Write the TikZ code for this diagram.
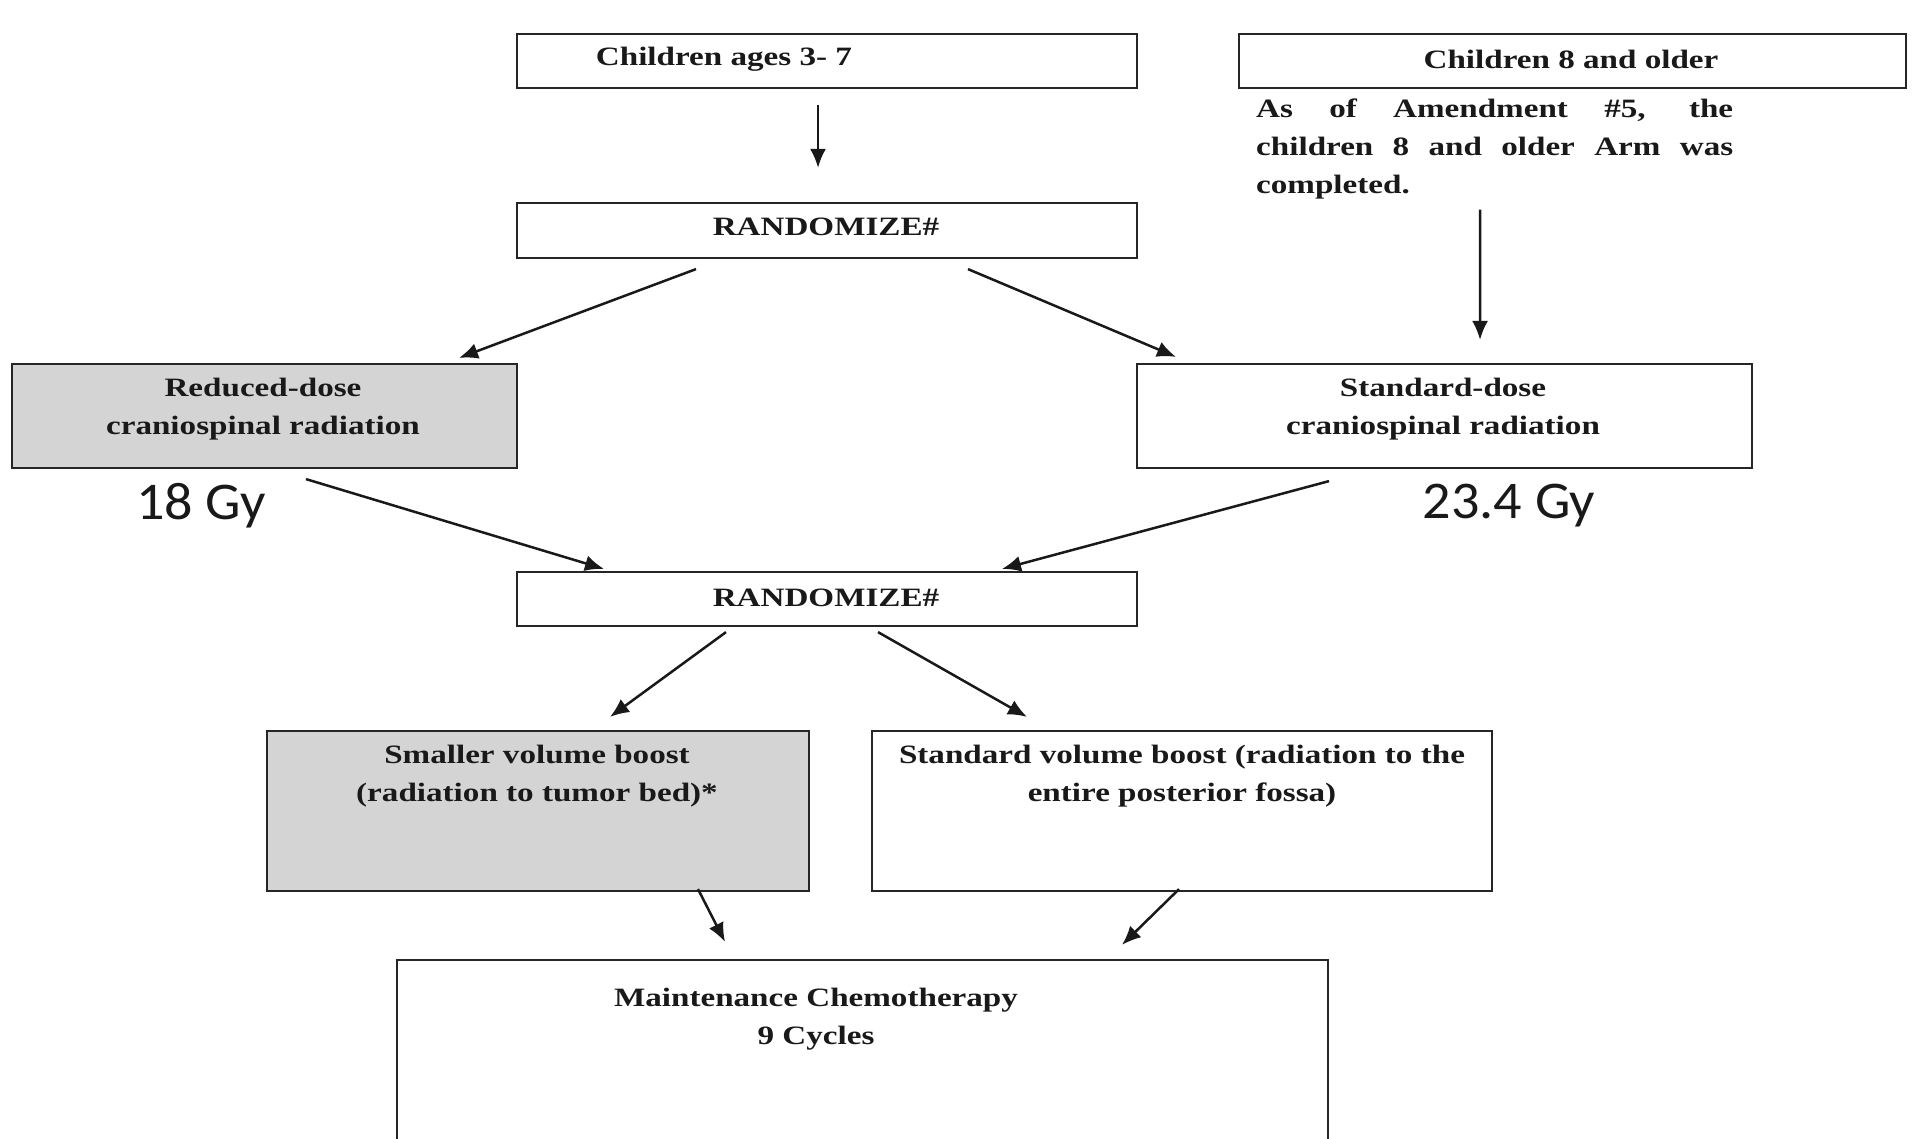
\documentclass[tikz,border=0pt]{standalone}
\usepackage{fontspec}
\setmainfont{Liberation Serif}
\newfontfamily\tbf{Liberation Serif}[FakeStretch=1.25]
\newfontfamily\gyfont{Carlito}[FakeStretch=1.06]
\usetikzlibrary{calc,arrows.meta}
\tikzset{
  box/.style={draw=black!85, line width=2.2pt, inner sep=0pt, rectangle},
  graybox/.style={box, fill=black!17},
  txt/.style={font=\tbf\bfseries\fontsize{26.5}{38}\selectfont, align=center, inner sep=0pt, text=black!90},
  gy/.style={font=\gyfont\fontsize{53}{60}\selectfont, inner sep=0pt, text=black!90},
  arr/.style={line width=2.5pt, draw=black!90, -{Latex[length=19pt,width=16pt]}}
}
\begin{document}
\begin{tikzpicture}[x=1pt,y=-1pt]
\clip (0,0) rectangle (1921,1138);
\fill[white] (0,0) rectangle (1921,1138);
% boxes
\node[box, minimum width=620pt, minimum height=54pt] (c37) at (827,61) {};
\node[box, minimum width=667pt, minimum height=54pt] (c8) at (1572.5,61) {};
\node[box, minimum width=620pt, minimum height=55pt] (rand1) at (827,230.5) {};
\node[graybox, minimum width=505pt, minimum height=104pt] (red) at (264.5,416) {};
\node[box, minimum width=615pt, minimum height=104pt] (std) at (1444.5,416) {};
\node[box, minimum width=620pt, minimum height=54pt] (rand2) at (827,599) {};
\node[graybox, minimum width=542pt, minimum height=160pt] (small) at (538,811) {};
\node[box, minimum width=620pt, minimum height=160pt] (stdvol) at (1182,811) {};
\node[box, minimum width=931pt, minimum height=190pt] (maint) at (862.5,1055) {};
% texts
\node[txt] (t37) at (724,59) {Children ages 3- 7};
\node[txt] (t8) at (1571,59) {Children 8 and older};
\node[txt, align=left, anchor=north west] (note) at (1256,99)
  {\makebox[477pt][s]{As of Amendment \#5, the}\\
   \makebox[477pt][s]{children 8 and older Arm was}\\
   completed.};
\node[txt] (tr1) at (826,227) {RANDOMIZE\#};
\node[txt] (tred) at (263,409) {Reduced-dose\\craniospinal radiation};
\node[txt] (tstd) at (1443,409) {Standard-dose\\craniospinal radiation};
\node[gy] (gy18) at (201,506) {18 Gy};
\node[gy] (gy23) at (1509,506) {23.4 Gy};
\node[txt] (tr2) at (826,598) {RANDOMIZE\#};
\node[txt] (tsmall) at (537,776) {Smaller volume boost\\(radiation to tumor bed)*};
\node[txt] (tstdvol) at (1182,776) {Standard volume boost (radiation to the\\entire posterior fossa)};
\node[txt] (tmaint) at (816,1019) {Maintenance Chemotherapy\\9 Cycles};
% arrows
\draw[arr] ($(c37.south)+(-9,16)$) -- ($(rand1.north)+(-9,-34)$);
\draw[arr] ($(note.south)+(-14.5,10)$) -- ($(std.north)+(35.5,-23)$);
\draw[arr] ($(rand1.south)+(-131,10)$) -- ($(red.north)+(194.5,-5)$);
\draw[arr] ($(rand1.south)+(141,10)$) -- ($(std.north)+(-268.5,-6)$);
\draw[arr] ($(red.south)+(41.5,10)$) -- ($(rand2.north)+(-223,-2)$);
\draw[arr] ($(std.south)+(-115.5,12)$) -- ($(rand2.north)+(175,-2)$);
\draw[arr] ($(rand2.south)+(-101,5)$) -- ($(small.north)+(72,-13)$);
\draw[arr] ($(rand2.south)+(51,5)$) -- ($(stdvol.north)+(-155,-13)$);
\draw[arr] ($(small.south)+(160,-3)$) -- ($(maint.north)+(-137.5,-17)$);
\draw[arr] ($(stdvol.south)+(-3,-3)$) -- ($(maint.north)+(259.5,-14)$);
\end{tikzpicture}
\end{document}
